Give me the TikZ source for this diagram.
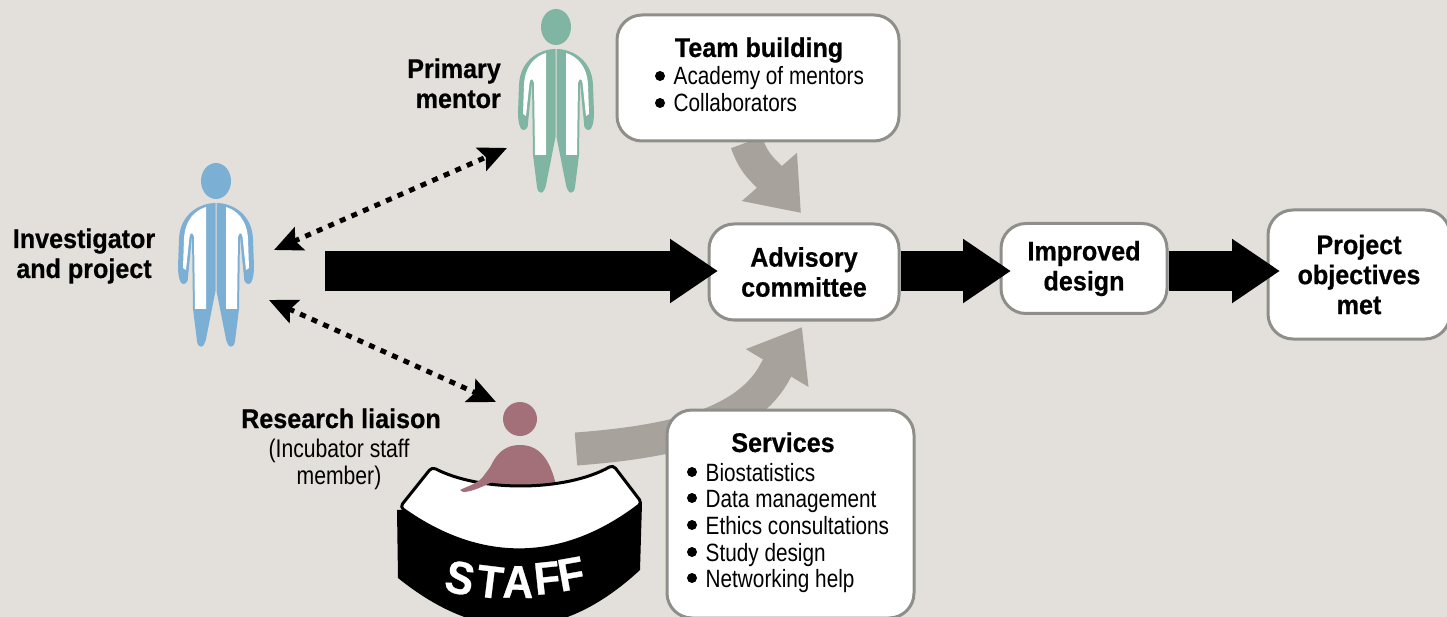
\documentclass[tikz,border=0pt]{standalone}
\usepackage{fontspec}
\setmainfont{Liberation Sans}[FakeStretch=0.83,BoldFeatures={FakeStretch=0.93,FakeBold=0.6}]
\usetikzlibrary{arrows.meta}
\usetikzlibrary{bending}
\usetikzlibrary{backgrounds}

\definecolor{bgtan}{HTML}{E3E0DB}
\definecolor{invblue}{HTML}{7BAFD4}
\definecolor{mentorgreen}{HTML}{7FB5A2}
\definecolor{liaisonrose}{HTML}{A3707A}
\definecolor{softgray}{HTML}{A7A39C}
\definecolor{edgegray}{HTML}{8E8E8A}

\begin{document}
\begin{tikzpicture}[
     x=1pt,y=-1pt,
     panel/.style={draw=edgegray,line width=3pt,fill=white,rounded corners=25pt,inner sep=0pt,align=center,font=\bfseries\fontsize{27}{30}\selectfont},
     headtext/.style={anchor=base,inner sep=0pt,font=\bfseries\fontsize{27}{30}\selectfont},
     itemtext/.style={anchor=base west,inner sep=0pt,font=\fontsize{25}{27}\selectfont},
     smalltext/.style={anchor=base,inner sep=0pt,align=center,font=\fontsize{25.5}{27}\selectfont},
     bigarrow/.style={line width=40pt,-{Triangle[length=48pt,width=61pt]}},
     softarrow/.style={softgray,line width=33pt,-{Triangle[length=48pt,width=70pt,flex=0]}},
     talkarrow/.style={line width=5pt,dash pattern=on 6pt off 6.6pt,{Stealth[length=28pt,width=25pt,inset=5pt]}-{Stealth[length=28pt,width=25pt,inset=5pt]}},
     pics/person/.style={code={
       \fill[#1] (0,0) ellipse (15 and 18);
       \foreach \sx in {1,-1} {
         \begin{scope}[xscale=\sx]
           \fill[#1] (-0.5,22) .. controls (-15,22) and (-36,32) .. (-37,58) -- (-38,86)
             .. controls (-38,95) and (-36,103) .. (-33,103) .. controls (-29,103) and (-28,100) .. (-28,96)
             -- (-24,55) -- (-23,128) -- (-19,160) .. controls (-18,168) and (-12,168) .. (-10,158)
             -- (-0.5,110) -- cycle;
           \fill[white] (-10,26) .. controls (-20,29) and (-31,38) .. (-32,58) -- (-33,87)
             -- (-30,89) -- (-26.5,56) .. controls (-26,51) and (-23,51) .. (-22,56)
             -- (-21,128) -- (-10,128) -- cycle;
         \end{scope}
       }
     }}
   ]
   \useasboundingbox (0,0) rectangle (1447,617);
   \begin{scope}[on background layer]
     \fill[bgtan] (0,0) rectangle (1447,617);
   \end{scope}
   % Boxes.
   \node[panel,minimum width=282pt,minimum height=126pt] (team) at (758,78) {};
   \node[panel,minimum width=190pt,minimum height=96pt] (advisory) at (804,272) {Advisory\\committee};
   \node[panel,minimum width=166pt,minimum height=90pt] (improved) at (1084,268.5) {Improved\\design};
   \node[panel,minimum width=182pt,minimum height=129pt] (objectives) at (1359,274.5) {Project\\objectives\\met};
   \node[panel,minimum width=247pt,minimum height=208pt] (services) at (790.5,514) {};
   % Box contents.
   \node[headtext] (teamhead) at (759,57) {Team building};
   \foreach \n/\ypos/\itemlabel in {1/85/Academy of mentors,2/112/Collaborators} {
     \fill (660,\ypos-9) circle (5);
     \node[itemtext] (team\n) at (673.5,\ypos) {\itemlabel};
   }
   \node[headtext] (serviceshead) at (783,452) {Services};
   \foreach \n/\ypos/\itemlabel in {1/481/Biostatistics,2/507/Data management,3/534/Ethics consultations,4/561/Study design,5/587/Networking help} {
     \fill (692,\ypos-9) circle (5);
     \node[itemtext] (services\n) at (705.5,\ypos) {\itemlabel};
   }
   % People.
   \pic (investigator) at (216,181) {person=invblue};
   \pic (mentor) at (556,27) {person=mentorgreen};
   \node[headtext,align=center] (investigatorlabel) at (84,278) {Investigator\\and project};
   \node[headtext,align=right,anchor=base east] (mentorlabel) at (501,108) {Primary\\mentor};
   \node[headtext] (liaisonlabel) at (341,428) {Research liaison};
   \node[smalltext] (liaisonnote) at (339,484) {(Incubator staff\\member)};
   % Desk.
   \fill[liaisonrose] (520,419) circle (17);
   \fill[liaisonrose] (483,490) .. controls (490,460) and (500,445) .. (520,445)
     .. controls (540,445) and (552,460) .. (558,495) -- cycle;
   \fill[black] (397,510) -- (398,578) .. controls (480,644) and (560,644) .. (640,570)
     -- (642,503) -- cycle;
   \draw[line width=3pt,fill=white,line join=round,rounded corners=4pt] (432,467)
     .. controls (480,492) and (565,492) .. (613,465) -- (642,503)
     .. controls (562,564) and (480,564) .. (400,507) -- cycle;
   \fill[liaisonrose] (460,490) .. controls (468,486) and (476,484) .. (482,478)
     -- (494,462) -- (494,481) .. controls (484,486) and (472,492) .. (463,492) -- cycle;
   \foreach \n/\ltr/\lx/\ly/\lr in {1/S/460/578/-12,2/T/490/582/-7,3/A/518/582/-1,4/F/547/578/6,5/F/571/574/10}
     \node[text=white,inner sep=0pt,rotate=\lr,font=\bfseries\fontsize{46}{46}\selectfont] (staff\n) at (\lx,\ly) {\ltr};
   % Arrows.
   \coordinate (investigatorstart) at (325,271);
   \coordinate (deskend) at (576,449);
   \coordinate (investigatorup) at (274,250);
   \coordinate (investigatordown) at (269,300);
   \coordinate (mentorend) at (507,148);
   \coordinate (liaisonend) at (496,402);
   \draw[bigarrow,shorten >=-10.5pt] (investigatorstart) -- (advisory.west |- investigatorstart);
   \draw[bigarrow,shorten >=-11.5pt] (advisory.east |- investigatorstart) -- (improved.west |- investigatorstart);
   \draw[bigarrow,shorten >=-13.5pt] (improved.east |- investigatorstart) -- (objectives.west |- investigatorstart);
   \draw[talkarrow] (investigatorup) -- (mentorend);
   \draw[talkarrow] (investigatordown) -- (liaisonend);
   \begin{scope}[on background layer]
     \draw[softarrow] ([xshift=-11.5pt]team.south) .. controls (752,158) and (757,165) .. (769.5,177) -- ([shift={(-3,-9.5)}]advisory.north);
     \draw[softarrow] (deskend) .. controls (670,442) and (748,425) .. (776,370) -- ([shift={(-2,5.5)}]advisory.south);
   \end{scope}
 \end{tikzpicture}
\end{document}
